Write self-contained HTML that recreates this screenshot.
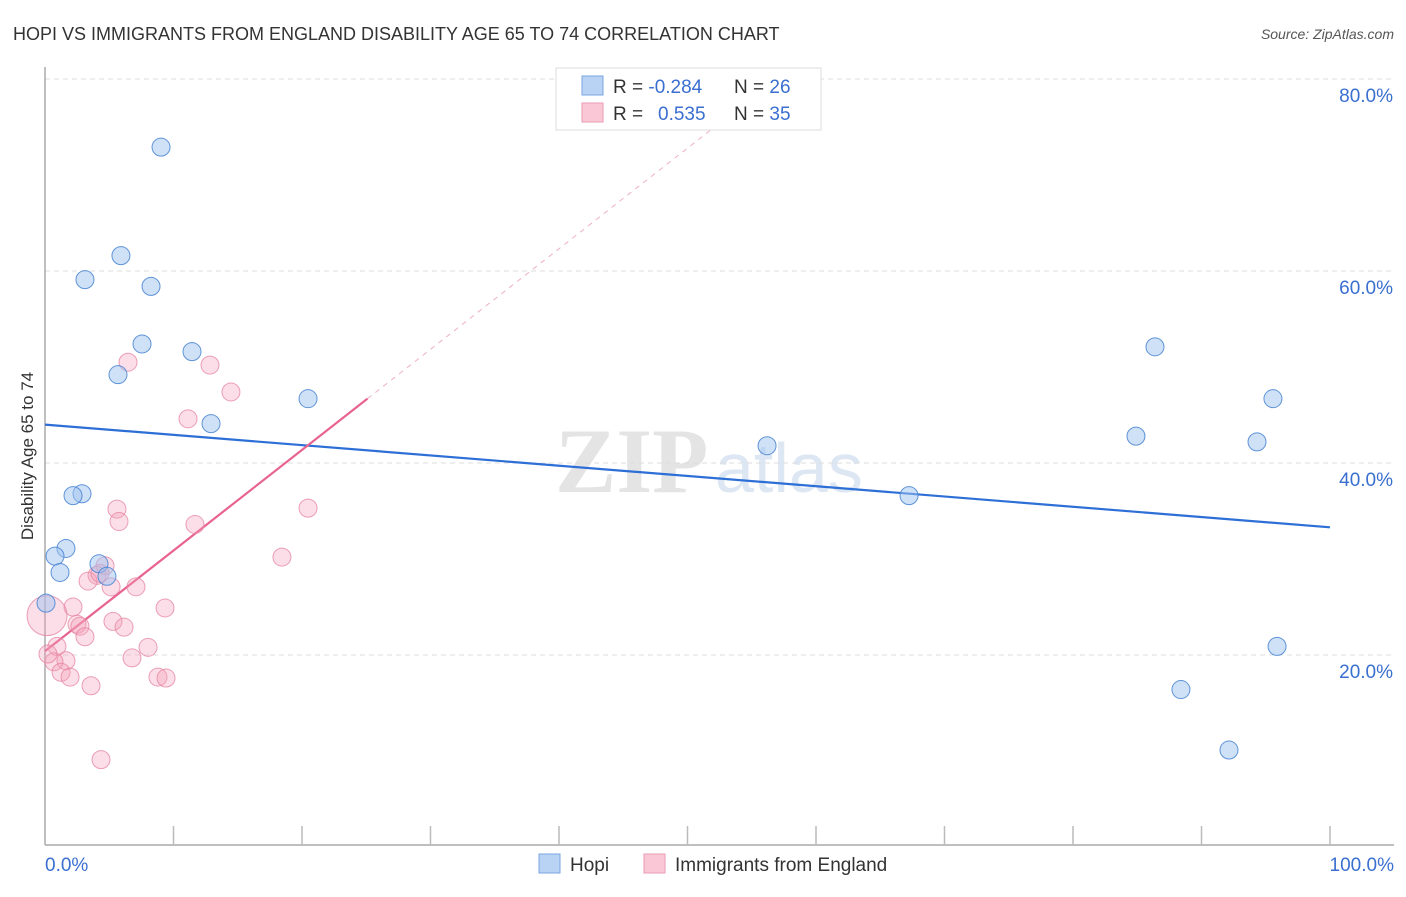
<!DOCTYPE html>
<html><head><meta charset="utf-8"><style>
body{margin:0;background:#fff;width:1406px;height:892px;overflow:hidden;font-family:"Liberation Sans",sans-serif}
</style></head><body>
<svg id="chart" width="1406" height="892" xmlns="http://www.w3.org/2000/svg">
<text x="13" y="40" font-size="18" fill="#333">HOPI VS IMMIGRANTS FROM ENGLAND DISABILITY AGE 65 TO 74 CORRELATION CHART</text>
<text x="1394" y="39" font-size="14" fill="#555" font-style="italic" text-anchor="end">Source: ZipAtlas.com</text>
<text transform="translate(33,456) rotate(-90)" font-size="17" fill="#333" text-anchor="middle">Disability Age 65 to 74</text>
<g><text x="555" y="492" font-size="92" fill="#e4e4e4" font-family="Liberation Serif,serif" font-weight="bold">ZIP</text><text x="715" y="492" font-size="70" fill="#dde6f3">atlas</text></g>
<g id="grid"></g><g id="axes"></g><g id="lines"></g><g id="pts"></g>
<g>
<rect x="556" y="68" width="265" height="62" fill="#fff" stroke="#ddd"/>
<rect x="582" y="76" width="21" height="19" fill="#b9d3f5" stroke="#7aa6e0"/>
<rect x="582" y="103" width="21" height="19" fill="#f9c7d5" stroke="#eb9bb3"/>
<text x="613" y="93" font-size="19" fill="#333">R = <tspan fill="#3a6fd0">-0.284</tspan><tspan x="734">N = </tspan><tspan fill="#3a6fd0">26</tspan></text>
<text x="613" y="120" font-size="19" fill="#333">R = <tspan x="658" fill="#3a6fd0">0.535</tspan><tspan x="734">N = </tspan><tspan fill="#3a6fd0">35</tspan></text>
</g>
<g>
<rect x="539" y="854" width="21" height="19" fill="#b9d3f5" stroke="#7aa6e0"/>
<text x="570" y="871" font-size="19" fill="#333">Hopi</text>
<rect x="644" y="854" width="21" height="19" fill="#f9c7d5" stroke="#eb9bb3"/>
<text x="675" y="871" font-size="19" fill="#333">Immigrants from England</text>
</g>
</svg>
<script>
const hopiX=[9.03,5.91,3.11,8.25,7.55,11.44,5.68,20.47,12.92,2.88,2.18,1.63,0.78,1.17,4.2,4.82,0.08,56.19,67.24,86.38,95.56,84.9,94.32,95.88,88.4,92.14];
const hopiY=[72.9,61.6,59.1,58.4,52.4,51.6,49.2,46.7,44.1,36.8,36.6,31.1,30.3,28.6,29.5,28.2,25.4,41.8,36.6,52.1,46.7,42.8,42.2,20.9,16.4,10.1];
const engX=[6.46,12.84,14.47,11.13,5.6,5.76,11.67,20.47,18.44,4.67,4.05,3.35,5.14,7.08,9.34,2.18,5.29,2.49,2.72,6.15,3.11,0.93,8.02,6.77,1.63,0.7,1.25,1.95,8.79,9.42,3.58,4.36,0.16,0.23,4.28];
const engY=[50.5,50.2,47.4,44.6,35.2,33.9,33.6,35.3,30.2,29.3,28.3,27.7,27.1,27.1,24.9,25.0,23.5,23.2,23.0,22.9,21.9,20.9,20.8,19.7,19.4,19.3,18.2,17.7,17.7,17.6,16.8,9.1,24.1,20.1,28.5];
const engBig=[32];
const yTicks=[20,40,60,80];
const yTickLabels=["20.0%","40.0%","60.0%","80.0%"];
const hopiTrend=[44.0,33.3];
const engTrend=[20.4,1.048];
const NS="http://www.w3.org/2000/svg";
const X=v=>45+v*12.85, Y=v=>847-v*9.6;
function mk(p,t,a){const e=document.createElementNS(NS,t);for(const k in a)e.setAttribute(k,a[k]);document.getElementById(p).appendChild(e);return e;}
yTicks.forEach((t,i)=>{
 const g=mk('grid','line',{x1:45,x2:1394,y1:Y(t),y2:Y(t),stroke:'#ddd','stroke-dasharray':'5,4'});
 
 
 const l=mk('grid','text',{x:1393,y:Y(t)+23,'font-size':19,fill:'#3a6fd0','text-anchor':'end'});l.textContent=yTickLabels[i];
 
 
});
const ya=mk('axes','line',{x1:45,x2:45,y1:67,y2:845,stroke:'#aaa','stroke-width':1.5});


const xa=mk('axes','line',{x1:45,x2:1394,y1:845,y2:845,stroke:'#aaa','stroke-width':1.5});


for(let i=1;i<=10;i++){const t=mk('axes','line',{x1:X(i*10),x2:X(i*10),y1:826,y2:845,stroke:'#bbb','stroke-width':1.5});
 
 }
[[0,'0.0%','start',45],[100,'100.0%','end',1394]].forEach(a=>{const t=mk('axes','text',{x:a[3],y:871,'font-size':19,fill:'#3a6fd0','text-anchor':a[2]});t.textContent=a[1];
 
 });
engX.forEach((x,i)=>{const c=mk('pts','circle',{cx:X(x),cy:Y(engY[i]),r:engBig.includes(i)?20:9,fill:'rgba(244,160,187,0.35)',stroke:'rgba(230,130,160,0.75)','stroke-width':1});
 
 });
hopiX.forEach((x,i)=>{const c=mk('pts','circle',{cx:X(x),cy:Y(hopiY[i]),r:9,fill:'rgba(160,196,240,0.5)',stroke:'rgba(70,130,210,0.85)','stroke-width':1});
 
 });
const hl=mk('lines','line',{x1:X(0),y1:Y(hopiTrend[0]),x2:X(100),y2:Y(hopiTrend[1]),stroke:'#2d6fd6','stroke-width':2.2});


const e1=25.1, e2=(80-engTrend[0])/engTrend[1];
const el=mk('lines','line',{x1:X(0),y1:Y(engTrend[0]),x2:X(e1),y2:Y(engTrend[0]+engTrend[1]*e1),stroke:'#e8638f','stroke-width':2.2});


const ed=mk('lines','line',{x1:X(e1),y1:Y(engTrend[0]+engTrend[1]*e1),x2:X(e2),y2:Y(80),stroke:'#eeb0c4','stroke-width':1,'stroke-dasharray':'5,5'});


</script>
</body></html>
